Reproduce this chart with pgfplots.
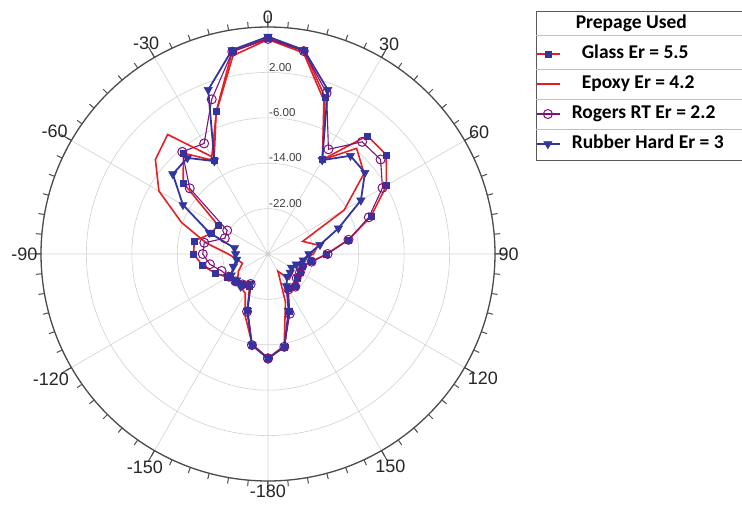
\documentclass[border=0pt]{standalone}
\usepackage{pgfplots}
\pgfplotsset{compat=1.18}
\usepgfplotslibrary{polar}
\usepackage{pgfplotstable}
\usepackage{fontspec}
\setmainfont{Liberation Sans}
\newfontfamily\legfont{Carlito}
\definecolor{cred}{RGB}{228,32,36}
\definecolor{cblue}{RGB}{50,52,160}
\definecolor{cpurple}{RGB}{125,20,120}

% angle (deg, clockwise from top), gain (dB); plotted radius = gain + 30
\pgfplotstableread{
a glass epoxy rogers rubber
-180 -11.6 -11.6 -11.6 -11.6
-170 -13.7 -13.9 -13.7 -13.7
-160 -19.4 -18.3 -19.2 -19.4
-150 -23.5 -22.0 -23.9 -24.0
-140 -23.0 -22.5 -23.0 -22.5
-130 -22.5 -23.0 -22.5 -22.8
-120 -21.8 -24.0 -22.0 -22.5
-110 -20.1 -25.2 -21.3 -23.5
-100 -18.3 -24.5 -19.6 -24.4
-90 -16.9 -23.0 -18.5 -24.3
-80 -16.8 -19.0 -18.6 -24.0
-70 -19.4 -13.8 -21.9 -19.0
-60 -19.8 -7.8 -21.7 -12.7
-50 -10.5 -4.1 -12.0 -8.1
-40 -6.8 -2.5 -6.5 -7.9
-30 -11.0 -10.2 -7.5 -11.1
-20 -3.3 -3.4 -1.0 0.8
-10 6.3 5.5 6.2 6.5
0 8.0 7.8 7.9 8.3
10 6.4 6.0 6.3 6.5
20 -0.6 -1.2 0.2 0.8
30 -10.8 -10.8 -8.7 -10.9
40 -2.8 -5.7 -4.2 -7.4
50 -2.8 -7.9 -4.1 -7.7
60 -5.9 -14.5 -6.7 -11.1
70 -10.7 -23.5 -11.1 -16.8
80 -15.6 -21.0 -15.6 -20.7
90 -19.7 -22.0 -19.5 -22.8
100 -22.2 -24.0 -22.2 -23.7
110 -23.6 -24.5 -23.6 -24.7
120 -23.5 -25.0 -23.5 -25.2
130 -23.3 -24.5 -23.4 -24.9
140 -22.5 -24.2 -22.5 -24.8
150 -23.0 -26.5 -22.8 -23.5
160 -19.2 -21.0 -18.8 -19.4
170 -13.4 -13.6 -13.4 -13.4
180 -11.6 -11.6 -11.6 -11.6
}\data

\begin{document}
\begin{tikzpicture}[x=1pt,y=1pt]
\path[use as bounding box] (0,0) rectangle (742,506);
\begin{polaraxis}[
  at={(268pt,252pt)}, anchor=center,
  scale only axis, width=454pt, height=454pt,
  xmin=0, xmax=360, ymin=0, ymax=40,
  xtick={0,30,...,330},
  xticklabels={90,60,30,0,-30,-60,-90,-120,-150,-180,150,120},
  minor xtick={0,5,...,355},
  ytick={8,16,24,32,40}, yticklabels={},
  xmajorgrids, ymajorgrids,
  major grid style={black!18, line width=0.6pt},
  separate axis lines,
  x axis line style={black!70, line width=1.3pt},
  y axis line style={draw=none},
  tick align=inside,
  major tick length=12pt, minor tick length=6pt,
  xtick style={black!70, line width=1pt},
  minor tick style={black!75, line width=0.9pt},
  ytick style={draw=none},
  xticklabel style={font=\fontsize{18}{18}\selectfont, text=black!85},
  legend style={at={(axis description cs:1.0881,1.0396)}, anchor=north west,
    draw=none, fill=none, inner sep=0pt, outer sep=0pt, row sep=0pt,
    font=\legfont\bfseries\fontsize{19.5}{20}\selectfont,
    nodes={inner sep=0pt, minimum height=30pt, text height=13pt, text depth=4pt},
    /tikz/every odd column/.append style={column sep=11pt}},
  legend cell align=left,
  legend image code/.code={\draw[mark repeat=2,mark phase=2] plot coordinates {(0pt,0pt) (12pt,0pt) (24pt,0pt)};},
]
\addlegendimage{empty legend}
\addlegendentry{\hspace{4pt}Prepage Used}
\addplot[draw=cred, line width=1.6pt, mark=square*, mark size=3pt,
  mark options={fill=cblue, draw=cblue, solid, line width=0.5pt}]
  table[x expr=90-\thisrow{a}, y expr=\thisrow{glass}+30] {\data};
\addlegendentry{\hspace{10pt}Glass Er = 5.5}
\addplot[draw=cred, line width=1.6pt, no markers]
  table[x expr=90-\thisrow{a}, y expr=\thisrow{epoxy}+30] {\data};
\addlegendentry{\hspace{10pt}Epoxy Er = 4.2}
\addplot[draw=cpurple, line width=1.1pt, mark=o, mark size=4.5pt,
  mark options={draw=cpurple, line width=1pt, solid}]
  table[x expr=90-\thisrow{a}, y expr=\thisrow{rogers}+30] {\data};
\addlegendentry{Rogers RT Er = 2.2}
\addplot[draw=cblue, line width=1.8pt, mark=triangle*, mark size=4.8pt,
  mark options={fill=cblue, draw=cblue, rotate=180, solid, line width=0.5pt}]
  table[x expr=90-\thisrow{a}, y expr=\thisrow{rubber}+30] {\data};
\addlegendentry{Rubber Hard Er = 3}
\node[anchor=south west, inner sep=1pt, text=black!75, font=\fontsize{11.5}{12}\selectfont] at (axis cs:90,32) {2.00};
\node[anchor=south west, inner sep=1pt, text=black!75, font=\fontsize{11.5}{12}\selectfont] at (axis cs:90,24) {-6.00};
\node[anchor=south west, inner sep=1pt, text=black!75, font=\fontsize{11.5}{12}\selectfont] at (axis cs:90,16) {-14.00};
\node[anchor=south west, inner sep=1pt, text=black!75, font=\fontsize{11.5}{12}\selectfont] at (axis cs:90,8) {-22.00};
\end{polaraxis}
\draw[black!65, line width=0.9pt] (536,346) rectangle (760,495);
\foreach \yy in {471,437,407,377}{\draw[black!25, line width=0.7pt] (536,\yy) -- (760,\yy);}
\end{tikzpicture}
\end{document}
